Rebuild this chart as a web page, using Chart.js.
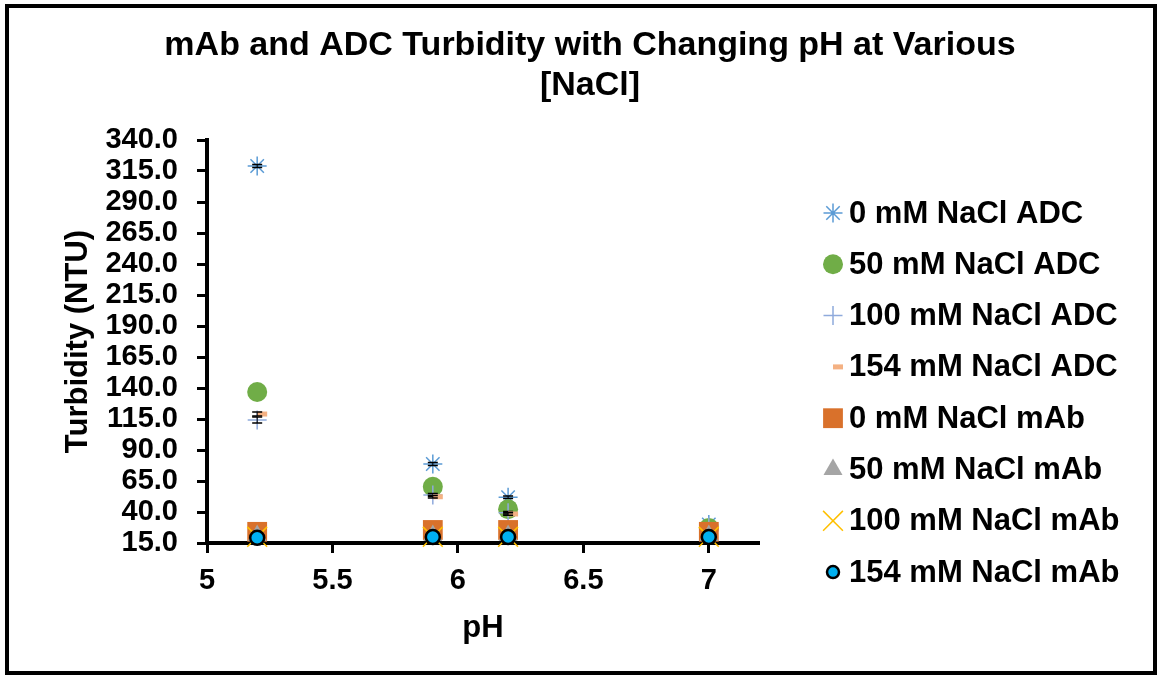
<!DOCTYPE html>
<html>
<head>
<meta charset="utf-8">
<title>mAb and ADC Turbidity</title>
<script src="https://cdn.jsdelivr.net/npm/chart.js@4.4.0/dist/chart.umd.min.js"></script>
<style>
  html, body { margin: 0; padding: 0; background: #fff; }
  #wrap { position: relative; width: 1168px; height: 676px; }
</style>
</head>
<body>
<div id="wrap"><canvas id="turbChart" width="1168" height="676"></canvas></div>
<script>
// pH values measured
const phValues = [5.2, 5.9, 6.2, 7.0];
const xTickValues = [5, 5.5, 6, 6.5, 7];

const seriesLabels = [
  '0 mM NaCl ADC', '50 mM NaCl ADC', '100 mM NaCl ADC', '154 mM NaCl ADC',
  '0 mM NaCl mAb', '50 mM NaCl mAb', '100 mM NaCl mAb', '154 mM NaCl mAb',
];

// turbidity (NTU) per series, same order as phValues
const adc0 = [319.0, 78.7, 51.9, 30.0];
const adc50 = [136.8, 60.4, 42.2, 27.0];
const adc100 = [114.2, 53.7, 39.4, 28.0];
const adc154 = [119.0, 52.3, 38.4, 27.0];
const mab0 = [24.0, 25.5, 25.5, 24.0];
const mab50 = [21.0, 21.0, 21.0, 21.0];
const mab100 = [20.0, 20.0, 20.0, 20.0];
const mab154 = [19.2, 19.8, 19.8, 19.8];

// +/- error (NTU), only the ADC series that show bars
const adc0Err = [1.2, 1.2, 1.0, 0.5];
const adc100Err = [2.5, 1.2, 1.0, 0.5];
const adc154Err = [1.6, 1.0, 1.0, 0.5];

const titleLines = ['mAb and ADC Turbidity with Changing pH at Various', '[NaCl]'];
const FONT = '"Liberation Sans", Arial, sans-serif';

Chart.defaults.font.family = FONT;

function pts(values) {
  return values.map((v, i) => ({ x: phValues[i], y: v }));
}

function series(idx, values, style, errors) {
  return {
    label: seriesLabels[idx],
    data: pts(values),
    errors: errors || null,
    order: 7 - idx, // later series sit on top, like the original
    clip: false,
    ...style,
  };
}

const datasets = [
  series(0, adc0, { pointStyle: 'star', pointRadius: 9.5, borderColor: '#5B9BD5', backgroundColor: '#5B9BD5', pointBorderWidth: 1.5 }, adc0Err),
  series(1, adc50, { pointStyle: 'circle', pointRadius: 10, borderColor: '#70AD47', backgroundColor: '#70AD47', pointBorderWidth: 0 }),
  series(2, adc100, { pointStyle: 'cross', pointRadius: 9.5, borderColor: '#8FAADC', backgroundColor: '#8FAADC', pointBorderWidth: 1.5 }, adc100Err),
  series(3, adc154, { pointStyle: 'dash', pointRadius: 10, borderColor: '#F4B183', backgroundColor: '#F4B183', pointBorderWidth: 5 }, adc154Err),
  series(4, mab0, { pointStyle: 'rect', pointRadius: 14, borderColor: '#D9712B', backgroundColor: '#D9712B', pointBorderWidth: 0 }),
  series(5, mab50, { pointStyle: 'triangle', pointRadius: 11, borderColor: '#A5A5A5', backgroundColor: '#A5A5A5', pointBorderWidth: 0 }),
  series(6, mab100, { pointStyle: 'crossRot', pointRadius: 14, borderColor: '#FFC000', backgroundColor: '#FFC000', pointBorderWidth: 1.5 }),
  series(7, mab154, { pointStyle: 'circle', pointRadius: 7, borderColor: '#000000', backgroundColor: '#00B0F0', pointBorderWidth: 2.5 }),
];

// error bars drawn right after their own series so later series can cover them
const errorBars = {
  id: 'errorBars',
  afterDatasetDraw(chart, args) {
    const ds = chart.data.datasets[args.index];
    if (!ds.errors) return;
    const ctx = chart.ctx;
    const yScale = chart.scales.y;
    ctx.save();
    ctx.strokeStyle = '#000';
    args.meta.data.forEach((pt, i) => {
      const v = ds.data[i].y;
      const e = ds.errors[i];
      const top = yScale.getPixelForValue(v + e);
      const bot = yScale.getPixelForValue(v - e);
      ctx.lineWidth = 1;
      ctx.beginPath();
      ctx.moveTo(pt.x, top); ctx.lineTo(pt.x, bot);
      ctx.stroke();
      ctx.lineWidth = 1.5;
      ctx.beginPath();
      ctx.moveTo(pt.x - 5, top); ctx.lineTo(pt.x + 5, top);
      ctx.moveTo(pt.x - 5, bot); ctx.lineTo(pt.x + 5, bot);
      ctx.stroke();
    });
    ctx.restore();
  },
};

// title, legend column and outer frame
const decorations = {
  id: 'decorations',
  afterDraw(chart) {
    const ctx = chart.ctx;
    ctx.save();
    ctx.fillStyle = '#000';
    ctx.textAlign = 'center';
    ctx.textBaseline = 'middle';
    ctx.font = `bold 34px ${FONT}`;
    ctx.fillText(titleLines[0], 590, 46);
    ctx.fillText(titleLines[1], 590, 86);

    ctx.font = `bold 31px ${FONT}`;
    ctx.textAlign = 'left';
    chart.data.datasets.forEach((ds, i) => {
      const y = 213 + i * 51.3;
      ctx.save();
      ctx.fillStyle = ds.backgroundColor;
      ctx.strokeStyle = ds.borderColor;
      ctx.lineWidth = ds.pointBorderWidth;
      Chart.helpers.drawPoint(ctx, {
        pointStyle: ds.pointStyle,
        rotation: 0,
        radius: ds.pointStyle === 'circle' && i === 7 ? 6 : ds.pointRadius,
        borderWidth: ds.pointBorderWidth,
      }, 833, y);
      ctx.restore();
      ctx.fillStyle = '#000';
      ctx.fillText(ds.label, 849, y + 1);
    });

    ctx.lineWidth = 4;
    ctx.strokeStyle = '#000';
    ctx.strokeRect(7, 6, 1148, 667);
    ctx.restore();
  },
};

const tickFont = { size: 29, weight: 'bold' };
const titleFont = { size: 31, weight: 'bold', lineHeight: 1.2 };

new Chart(document.getElementById('turbChart').getContext('2d'), {
  type: 'scatter',
  data: { datasets },
  plugins: [errorBars, decorations],
  options: {
    responsive: false,
    animation: false,
    events: [],
    layout: { padding: { left: 0, right: 409, top: 140, bottom: 0 } },
    plugins: { legend: { display: false }, tooltip: { enabled: false } },
    scales: {
      x: {
        type: 'linear',
        min: 5,
        max: 7.2,
        afterBuildTicks: s => { s.ticks = xTickValues.map(v => ({ value: v })); },
        afterFit: s => { s.height = 133; },
        ticks: { autoSkip: false, color: '#000', font: tickFont, padding: 11, maxRotation: 0, callback: v => String(Math.round(v * 10) / 10) },
        grid: { drawOnChartArea: false, drawTicks: true, tickLength: 10, tickWidth: 3, tickColor: '#000' },
        border: { color: '#000', width: 4 },
        title: { display: true, text: 'pH', color: '#000', font: titleFont, padding: { top: 0, bottom: 29 } },
      },
      y: {
        min: 15,
        max: 340,
        afterFit: s => { s.width = 207; },
        ticks: { stepSize: 25, autoSkip: false, color: '#000', font: tickFont, padding: 19, callback: v => Number(v).toFixed(1) },
        grid: { drawOnChartArea: false, drawTicks: true, tickLength: 10, tickWidth: 3, tickColor: '#000' },
        border: { color: '#000', width: 4 },
        title: { display: true, text: 'Turbidity (NTU)', color: '#000', font: titleFont, padding: { top: 60, bottom: 0 } },
      },
    },
  },
});
</script>
</body>
</html>
